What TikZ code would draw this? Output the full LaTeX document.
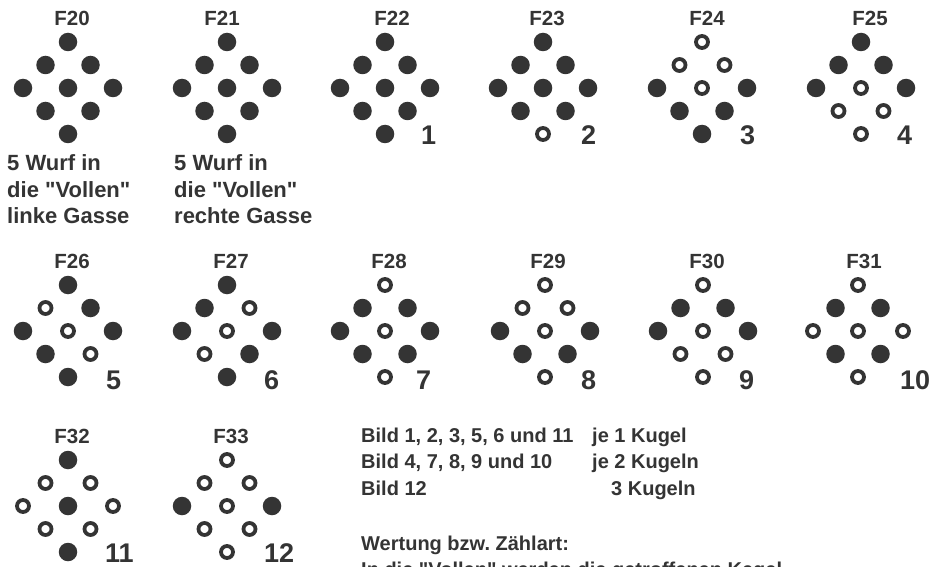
\documentclass[tikz,border=0pt]{standalone}
\usepackage{fontspec}
\newfontfamily\kfont{Liberation Sans}
\definecolor{ink}{RGB}{52,52,52}
\tikzset{
  kfull/.style={circle, fill=ink, draw=none, inner sep=0pt, minimum size=18.5pt},
  kopen/.style={circle, draw=ink, fill=white, line width=3.8pt, inner sep=0pt, minimum size=12pt},
  flabel/.style={font=\kfont\fontsize{20.5}{24}\selectfont\bfseries, text=ink, inner sep=0pt},
  nlabel/.style={font=\kfont\fontsize{27}{30}\selectfont\bfseries, text=ink, inner sep=0pt, anchor=west},
  txt/.style={font=\kfont\fontsize{20}{24}\selectfont\bfseries\frenchspacing, text=ink, inner sep=0pt, anchor=base west},
  txtb/.style={font=\kfont\fontsize{22}{26}\selectfont\bfseries, text=ink, inner sep=0pt, anchor=base west},
}
% #1 name, #2 cx, #3 cy, #4 pattern (1 = filled, 0 = open), #5 label x offset
\newcommand\kegelbild[5]{%
  \node[flabel] (f#1) at ({#2+(#5)},{#3-70}) {F#1};
  \foreach \s [count=\i from 0] in {#4} {
    \pgfmathsetmacro\kdx{{0,-22.5,22.5,-45,0,45,-22.5,22.5,0}[\i]}
    \pgfmathsetmacro\kdy{{-46,-23,-23,0,0,0,23,23,46}[\i]}
    \ifnum\s=1\relax
      \node[kfull] (f#1k\i) at ({#2+(\kdx)},{#3+(\kdy)}) {};
    \else
      \node[kopen] (f#1k\i) at ({#2+(\kdx)},{#3+(\kdy)}) {};
    \fi
  }
}
\begin{document}
\begin{tikzpicture}[x=1pt,y=-1pt]
\useasboundingbox[fill=white] (0,0) rectangle (934,567);

% row 1
\kegelbild{20}{68}{88}{1,1,1,1,1,1,1,1,1}{4}
\kegelbild{21}{227}{88}{1,1,1,1,1,1,1,1,1}{-5}
\kegelbild{22}{385}{88}{1,1,1,1,1,1,1,1,1}{7}
\kegelbild{23}{543}{88}{1,1,1,1,1,1,1,1,0}{4}
\kegelbild{24}{702}{88}{0,0,0,1,0,1,1,1,1}{5}
\kegelbild{25}{861}{88}{1,1,1,1,0,1,0,0,0}{9}
% row 2
\kegelbild{26}{68}{331}{1,0,1,1,0,1,1,0,1}{4}
\kegelbild{27}{227}{331}{1,1,0,1,0,1,0,1,1}{4}
\kegelbild{28}{385}{331}{0,1,1,1,0,1,1,1,0}{4}
\kegelbild{29}{545}{331}{0,0,0,1,0,1,1,1,0}{3}
\kegelbild{30}{703}{331}{0,1,1,1,0,1,0,0,0}{4}
\kegelbild{31}{858}{331}{0,1,1,0,0,0,1,1,0}{6}
% row 3
\kegelbild{32}{68}{506}{1,0,0,0,1,0,0,0,1}{4}
\kegelbild{33}{227}{506}{0,0,0,1,0,1,0,0,0}{4}

% numbers
\node[nlabel] (n1) at (421,135.5) {1};
\node[nlabel] (n2) at (581,135.5) {2};
\node[nlabel] (n3) at (740,135.5) {3};
\node[nlabel] (n4) at (897,135.5) {4};
\node[nlabel] (n5) at (106,380) {5};
\node[nlabel] (n6) at (264,380) {6};
\node[nlabel] (n7) at (416,380) {7};
\node[nlabel] (n8) at (581,380) {8};
\node[nlabel] (n9) at (739,380) {9};
\node[nlabel] (n10) at (900,380) {10};
\node[nlabel] (n11) at (105,553) {11};
\node[nlabel] (n12) at (264,553) {12};

% texts under F20 / F21
\node[txtb] (t20a) at (7,170) {5 Wurf in};
\node[txtb] (t20b) at (7,197) {die "Vollen"};
\node[txtb] (t20c) at (7,223) {linke Gasse};
\node[txtb] (t21a) at (174,170) {5 Wurf in};
\node[txtb] (t21b) at (174,197) {die "Vollen"};
\node[txtb] (t21c) at (174,223) {rechte Gasse};

% right text block
\node[txt] (b1) at (361,442) {Bild 1, 2, 3, 5, 6 und 11};
\node[txt] (b2) at (361,468) {Bild 4, 7, 8, 9 und 10};
\node[txt] (b3) at (361,495) {Bild 12};
\node[txt] (k1) at (592,442) {je 1 Kugel};
\node[txt] (k2) at (592,468) {je 2 Kugeln};
\node[txt] (k3) at (611,495) {3 Kugeln};
\node[txt] (w1) at (361,550) {Wertung bzw. Zählart:};
\node[txt] (w2) at (361,576) {In die "Vollen" werden die getroffenen Kegel};
\end{tikzpicture}
\end{document}
